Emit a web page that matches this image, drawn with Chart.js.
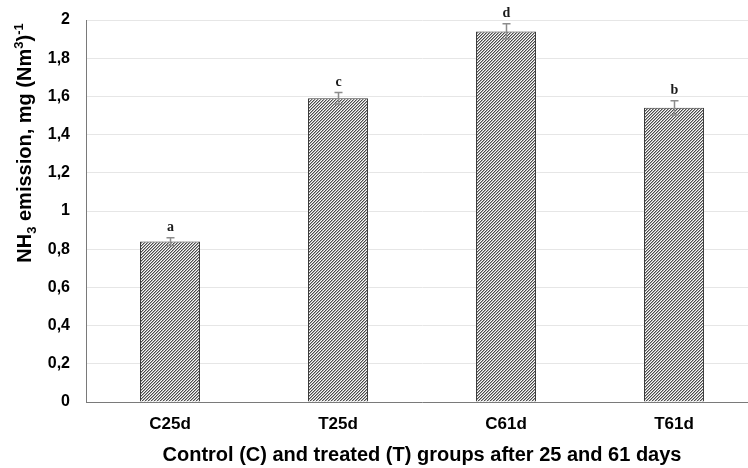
<!DOCTYPE html>
<html>
<head>
<meta charset="utf-8">
<script src="https://cdn.jsdelivr.net/npm/chart.js@4"></script>
<style>
  html, body { margin: 0; padding: 0; background: #fff; overflow: hidden; }
  #wrap { width: 758px; height: 468px; }
</style>
</head>
<body>
<div id="wrap"><canvas id="c" width="758" height="468"></canvas></div>
<script>
// ---- data ----
const categories = ['C25d', 'T25d', 'C61d', 'T61d'];
const emission = [0.84, 1.59, 1.94, 1.54];
const errors = [0.02, 0.03, 0.04, 0.037];
const groupLetters = ['a', 'c', 'd', 'b'];
const yTickLabels = ['0', '0,2', '0,4', '0,6', '0,8', '1', '1,2', '1,4', '1,6', '1,8', '2'];
const xTitle = 'Control (C) and treated (T) groups after 25 and 61 days';

// ---- hatch pattern ----
function makePattern() {
  const n = 3;
  const p = document.createElement('canvas');
  p.width = n; p.height = n;
  const g = p.getContext('2d');
  const img = g.createImageData(n, n);
  for (let y = 0; y < n; y++) {
    for (let x = 0; x < n; x++) {
      const k = (x + y) % n;
      let v = 250;
      if (k === 2) v = 75;
      else if (k === 0) v = 170;
      const i = (y * n + x) * 4;
      img.data[i] = v; img.data[i + 1] = v; img.data[i + 2] = v; img.data[i + 3] = 255;
    }
  }
  g.putImageData(img, 0, 0);
  return document.getElementById('c').getContext('2d').createPattern(p, 'repeat');
}

const errorBarPlugin = {
  id: 'errorBars',
  afterDatasetsDraw(chart) {
    const ctx = chart.ctx;
    const meta = chart.getDatasetMeta(0);
    const ys = chart.scales.y;
    ctx.save();
    ctx.strokeStyle = '#8c8c8c';
    ctx.lineWidth = 1.5;
    meta.data.forEach((bar, i) => {
      const x = Math.round(bar.x) + 0.5;
      const yTop = ys.getPixelForValue(emission[i] + errors[i]);
      const yBot = ys.getPixelForValue(emission[i] - errors[i]);
      ctx.beginPath();
      ctx.moveTo(x, yTop); ctx.lineTo(x, yBot);
      ctx.moveTo(x - 4, yTop); ctx.lineTo(x + 4, yTop);
      ctx.moveTo(x - 4, yBot); ctx.lineTo(x + 4, yBot);
      ctx.stroke();
      ctx.fillStyle = '#1a1a1a';
      ctx.font = 'bold 14px "Liberation Serif", "Times New Roman", serif';
      ctx.textAlign = 'center';
      ctx.textBaseline = 'middle';
      ctx.fillText(groupLetters[i], x, yTop - 10);
    });
    ctx.restore();
  }
};

const yTitlePlugin = {
  id: 'yTitle',
  afterDraw(chart) {
    const ctx = chart.ctx;
    const big = 'bold 20px "Liberation Sans", Arial, sans-serif';
    const small = 'bold 13px "Liberation Sans", Arial, sans-serif';
    const parts = [
      { t: 'NH', f: big, dy: 0 },
      { t: '3', f: small, dy: 5 },
      { t: ' emission, mg (Nm', f: big, dy: 0 },
      { t: '3', f: small, dy: -8 },
      { t: ')', f: big, dy: 0 },
      { t: '-1', f: small, dy: -8 }
    ];
    ctx.save();
    let total = 0;
    parts.forEach(p => { ctx.font = p.f; p.w = ctx.measureText(p.t).width; total += p.w; });
    ctx.translate(24, 143);
    ctx.rotate(-Math.PI / 2);
    ctx.fillStyle = '#000';
    ctx.textBaseline = 'alphabetic';
    ctx.textAlign = 'left';
    let x = -total / 2;
    parts.forEach(p => {
      ctx.font = p.f;
      ctx.fillText(p.t, x, 7 + p.dy);
      x += p.w;
    });
    ctx.restore();
  }
};

new Chart(document.getElementById('c'), {
  type: 'bar',
  data: {
    labels: categories,
    datasets: [{
      data: emission,
      backgroundColor: makePattern(),
      borderColor: '#3a3a3a',
      borderWidth: 1,
      barPercentage: 0.357,
      categoryPercentage: 1.0
    }]
  },
  options: {
    responsive: false,
    animation: false,
    devicePixelRatio: 1,
    layout: { padding: { top: 20, left: 0, right: 0, bottom: 0 } },
    plugins: { legend: { display: false }, tooltip: { enabled: false } },
    scales: {
      x: {
        grid: { display: false, drawTicks: false },
        border: { display: true, color: '#7a7a7a', width: 1 },
        ticks: {
          padding: 12,
          color: '#000',
          font: { family: '"Liberation Sans", Arial, sans-serif', size: 17, weight: 'bold' }
        },
        title: {
          display: true,
          text: xTitle,
          color: '#000',
          padding: { top: 0, bottom: 1 },
          font: { family: '"Liberation Sans", Arial, sans-serif', size: 20, weight: 'bold' }
        },
        afterFit(scale) { scale.height = 66; }
      },
      y: {
        min: 0, max: 2,
        ticks: {
          stepSize: 0.2,
          padding: 4,
          color: '#000',
          font: { family: '"Liberation Sans", Arial, sans-serif', size: 16, weight: 'bold' },
          callback: (v, i) => yTickLabels[i]
        },
        grid: { color: '#e6e6e6', lineWidth: 1, drawTicks: true, tickLength: 12, tickColor: 'rgba(0,0,0,0)' },
        border: { display: true, color: '#7a7a7a', width: 1 },
        afterFit(scale) { scale.width = 86; }
      }
    }
  },
  plugins: [errorBarPlugin, yTitlePlugin]
});
</script>
</body>
</html>
